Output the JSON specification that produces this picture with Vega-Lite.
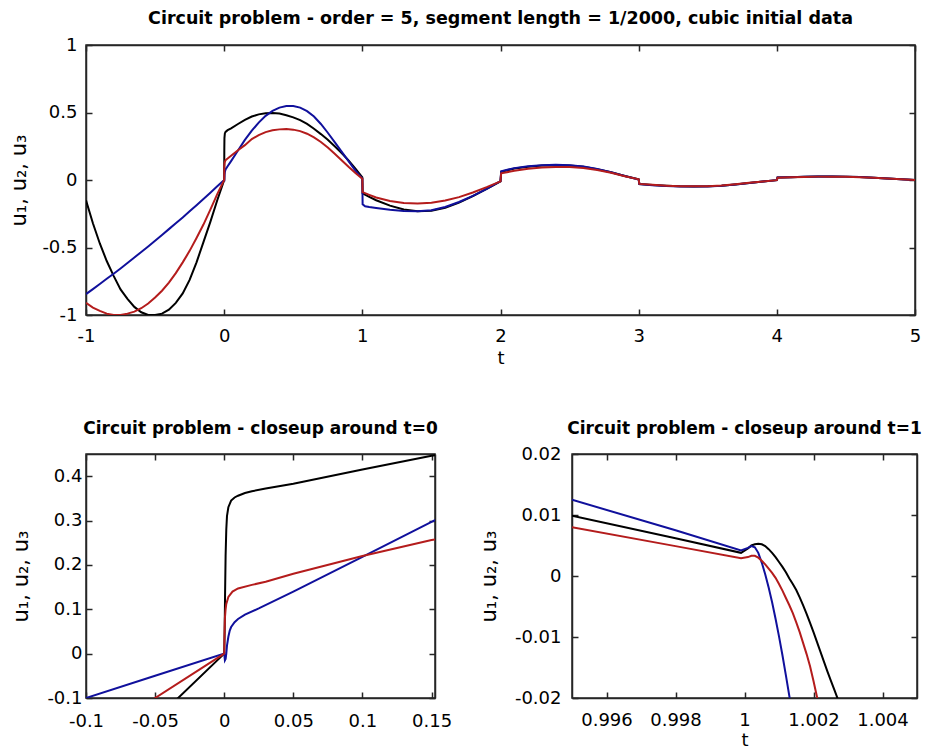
{
  "$schema": "https://vega.github.io/schema/vega-lite/v6.json",
  "background": "white",
  "padding": {"left": 8, "top": 8, "right": 6, "bottom": 0},
  "bounds": "flush",
  "spacing": 139,
  "config": {
    "view": {"stroke": "#262626", "strokeWidth": 1.5},
    "axis": {
      "domainColor": "#262626", "domainWidth": 1.5,
      "tickColor": "#262626", "tickWidth": 1.5, "tickSize": -6,
      "grid": false, "labelFlush": false,
      "labelFont": "DejaVu Sans", "labelFontSize": 18, "labelColor": "#000000",
      "titleFont": "DejaVu Sans", "titleFontSize": 21, "titleFontWeight": "normal", "titleColor": "#000000"
    },
    "title": {"font": "DejaVu Sans", "fontSize": 17, "fontWeight": "bold", "color": "#000000", "anchor": "middle", "offset": 12}
  },
  "datasets": {
    "main": [
      {"t":-1,"u1":-0.15,"u2":-0.845,"u3":-0.91},
      {"t":-0.95,"u1":-0.32,"u2":-0.808,"u3":-0.945},
      {"t":-0.9,"u1":-0.47,"u2":-0.77,"u3":-0.97},
      {"t":-0.85,"u1":-0.6,"u2":-0.732,"u3":-0.99},
      {"t":-0.8,"u1":-0.71,"u2":-0.694,"u3":-1.0},
      {"t":-0.75,"u1":-0.81,"u2":-0.655,"u3":-1.0},
      {"t":-0.7,"u1":-0.88,"u2":-0.615,"u3":-0.99},
      {"t":-0.65,"u1":-0.94,"u2":-0.574,"u3":-0.975},
      {"t":-0.6,"u1":-0.98,"u2":-0.533,"u3":-0.95},
      {"t":-0.55,"u1":-1.0,"u2":-0.492,"u3":-0.915},
      {"t":-0.5,"u1":-1.0,"u2":-0.45,"u3":-0.87},
      {"t":-0.45,"u1":-0.99,"u2":-0.407,"u3":-0.82},
      {"t":-0.4,"u1":-0.96,"u2":-0.364,"u3":-0.76},
      {"t":-0.35,"u1":-0.91,"u2":-0.321,"u3":-0.69},
      {"t":-0.3,"u1":-0.84,"u2":-0.277,"u3":-0.61},
      {"t":-0.25,"u1":-0.74,"u2":-0.232,"u3":-0.525},
      {"t":-0.2,"u1":-0.61,"u2":-0.187,"u3":-0.43},
      {"t":-0.15,"u1":-0.46,"u2":-0.141,"u3":-0.33},
      {"t":-0.1,"u1":-0.31,"u2":-0.094,"u3":-0.22},
      {"t":-0.05,"u1":-0.15,"u2":-0.047,"u3":-0.105},
      {"t":0,"u1":0,"u2":0,"u3":0},
      {"t":0.001,"u1":0.22,"u2":-0.01,"u3":0.1},
      {"t":0.002,"u1":0.31},
      {"t":0.003,"u2":0.04,"u3":0.128},
      {"t":0.005,"u1":0.345,"u2":0.06},
      {"t":0.01,"u1":0.356,"u2":0.078,"u3":0.147},
      {"t":0.025,"u1":0.369,"u2":0.102,"u3":0.159},
      {"t":0.05,"u1":0.383,"u2":0.14,"u3":0.18},
      {"t":0.1,"u1":0.415,"u2":0.218,"u3":0.22},
      {"t":0.15,"u1":0.446,"u2":0.297,"u3":0.258},
      {"t":0.2,"u1":0.47,"u2":0.365,"u3":0.303},
      {"t":0.25,"u1":0.486,"u2":0.425,"u3":0.333},
      {"t":0.3,"u1":0.495,"u2":0.475,"u3":0.355},
      {"t":0.35,"u1":0.497,"u2":0.512,"u3":0.368},
      {"t":0.4,"u1":0.492,"u2":0.536,"u3":0.375},
      {"t":0.45,"u1":0.48,"u2":0.548,"u3":0.377},
      {"t":0.5,"u1":0.464,"u2":0.548,"u3":0.373},
      {"t":0.55,"u1":0.443,"u2":0.536,"u3":0.362},
      {"t":0.6,"u1":0.415,"u2":0.51,"u3":0.343},
      {"t":0.65,"u1":0.38,"u2":0.47,"u3":0.316},
      {"t":0.7,"u1":0.34,"u2":0.415,"u3":0.282},
      {"t":0.75,"u1":0.298,"u2":0.35,"u3":0.24},
      {"t":0.8,"u1":0.25,"u2":0.28,"u3":0.195},
      {"t":0.85,"u1":0.2,"u2":0.21,"u3":0.147},
      {"t":0.9,"u1":0.145,"u2":0.14,"u3":0.098},
      {"t":0.95,"u1":0.085,"u2":0.07,"u3":0.052},
      {"t":1,"u1":0.02,"u2":0.01,"u3":0.01},
      {"t":1.002,"u1":-0.1,"u2":-0.18,"u3":-0.09},
      {"t":1.02,"u2":-0.195},
      {"t":1.05,"u1":-0.125,"u2":-0.2,"u3":-0.11},
      {"t":1.1,"u1":-0.15,"u2":-0.207,"u3":-0.13},
      {"t":1.2,"u1":-0.19,"u2":-0.22,"u3":-0.155},
      {"t":1.3,"u1":-0.218,"u2":-0.23,"u3":-0.17},
      {"t":1.4,"u1":-0.232,"u2":-0.232,"u3":-0.174},
      {"t":1.5,"u1":-0.228,"u2":-0.224,"u3":-0.168},
      {"t":1.6,"u1":-0.205,"u2":-0.2,"u3":-0.152},
      {"t":1.7,"u1":-0.168,"u2":-0.163,"u3":-0.127},
      {"t":1.8,"u1":-0.12,"u2":-0.117,"u3":-0.093},
      {"t":1.9,"u1":-0.065,"u2":-0.065,"u3":-0.053},
      {"t":2,"u1":-0.01,"u2":-0.008,"u3":-0.01},
      {"t":2.005,"u1":0.06,"u2":0.065,"u3":0.05},
      {"t":2.1,"u1":0.085,"u2":0.088,"u3":0.068},
      {"t":2.2,"u1":0.098,"u2":0.102,"u3":0.083},
      {"t":2.3,"u1":0.107,"u2":0.11,"u3":0.093},
      {"t":2.4,"u1":0.11,"u2":0.113,"u3":0.097},
      {"t":2.5,"u1":0.108,"u2":0.11,"u3":0.096},
      {"t":2.6,"u1":0.098,"u2":0.1,"u3":0.089},
      {"t":2.7,"u1":0.08,"u2":0.082,"u3":0.074},
      {"t":2.8,"u1":0.058,"u2":0.058,"u3":0.053},
      {"t":2.9,"u1":0.03,"u2":0.03,"u3":0.028},
      {"t":3,"u1":0.005,"u2":0.003,"u3":0.005},
      {"t":3.005,"u1":-0.03,"u2":-0.031,"u3":-0.029},
      {"t":3.1,"u1":-0.037,"u2":-0.038,"u3":-0.036},
      {"t":3.2,"u1":-0.043,"u2":-0.044,"u3":-0.042},
      {"t":3.3,"u1":-0.047,"u2":-0.048,"u3":-0.046},
      {"t":3.4,"u1":-0.048,"u2":-0.049,"u3":-0.047},
      {"t":3.5,"u1":-0.047,"u2":-0.048,"u3":-0.046},
      {"t":3.6,"u1":-0.042,"u2":-0.042,"u3":-0.041},
      {"t":3.7,"u1":-0.033,"u2":-0.033,"u3":-0.032},
      {"t":3.8,"u1":-0.022,"u2":-0.022,"u3":-0.021},
      {"t":3.9,"u1":-0.011,"u2":-0.011,"u3":-0.011},
      {"t":4,"u1":-0.001,"u2":-0.001,"u3":-0.001},
      {"t":4.005,"u1":0.018,"u2":0.018,"u3":0.017},
      {"t":4.1,"u1":0.021,"u2":0.021,"u3":0.02},
      {"t":4.2,"u1":0.024,"u2":0.024,"u3":0.023},
      {"t":4.3,"u1":0.026,"u2":0.026,"u3":0.025},
      {"t":4.4,"u1":0.026,"u2":0.026,"u3":0.025},
      {"t":4.5,"u1":0.025,"u2":0.025,"u3":0.024},
      {"t":4.6,"u1":0.022,"u2":0.022,"u3":0.021},
      {"t":4.7,"u1":0.017,"u2":0.017,"u3":0.016},
      {"t":4.8,"u1":0.011,"u2":0.011,"u3":0.011},
      {"t":4.9,"u1":0.005,"u2":0.005,"u3":0.005},
      {"t":5,"u1":0,"u2":0,"u3":0}
    ],
    "z0": [
      {"t":-0.1,"u1":-0.31,"u2":-0.1,"u3":-0.22},
      {"t":-0.05,"u1":-0.15,"u2":-0.05,"u3":-0.1},
      {"t":0,"u1":0,"u2":0,"u3":0},
      {"t":0.0002,"u3":0.04},
      {"t":0.0003,"u1":0.05},
      {"t":0.0005,"u2":-0.015,"u3":0.08},
      {"t":0.0006,"u1":0.13},
      {"t":0.001,"u1":0.22,"u2":-0.012,"u3":0.1},
      {"t":0.0015,"u1":0.28,"u2":0.0,"u3":0.112},
      {"t":0.002,"u1":0.31,"u2":0.018},
      {"t":0.003,"u1":0.33,"u2":0.038,"u3":0.128},
      {"t":0.004,"u2":0.052},
      {"t":0.005,"u1":0.345,"u2":0.06},
      {"t":0.006,"u3":0.14},
      {"t":0.0075,"u1":0.352,"u2":0.071},
      {"t":0.01,"u1":0.356,"u2":0.078,"u3":0.147},
      {"t":0.015,"u1":0.362,"u2":0.088},
      {"t":0.02,"u1":0.366,"u3":0.155},
      {"t":0.025,"u2":0.102},
      {"t":0.03,"u1":0.372,"u3":0.162},
      {"t":0.05,"u1":0.383,"u2":0.14,"u3":0.18},
      {"t":0.1,"u1":0.415,"u2":0.218,"u3":0.22},
      {"t":0.15,"u1":0.446,"u2":0.297,"u3":0.256},
      {"t":0.155,"u1":0.448,"u2":0.305,"u3":0.259}
    ],
    "z1": [
      {"t":0.995,"u1":0.0099,"u2":0.0125,"u3":0.008},
      {"t":0.998,"u1":0.0062,"u2":0.0075,"u3":0.0049},
      {"t":0.9999,"u1":0.0038,"u2":0.0042,"u3":0.0029},
      {"t":1.0001,"u1":0.0045,"u2":0.0046,"u3":0.0031},
      {"t":1.0002,"u1":0.005,"u2":0.0049,"u3":0.0033},
      {"t":1.0003,"u1":0.0052,"u2":0.0047,"u3":0.0033},
      {"t":1.0004,"u1":0.0053,"u2":0.0038,"u3":0.003},
      {"t":1.0005,"u1":0.0052,"u2":0.0022,"u3":0.0025},
      {"t":1.0006,"u1":0.0049,"u2":0.0003,"u3":0.0019},
      {"t":1.0007,"u1":0.0044,"u2":-0.0019,"u3":0.0012},
      {"t":1.0008,"u1":0.0038,"u2":-0.0043,"u3":0.0005},
      {"t":1.0009,"u1":0.0031,"u2":-0.007,"u3":-0.0003},
      {"t":1.001,"u1":0.0023,"u2":-0.0099,"u3":-0.0013},
      {"t":1.0011,"u1":0.0015,"u2":-0.013,"u3":-0.0024},
      {"t":1.0012,"u1":0.0006,"u2":-0.0163,"u3":-0.0036},
      {"t":1.0013,"u1":-0.0004,"u2":-0.0197,"u3":-0.0048},
      {"t":1.0014,"u1":-0.0013,"u2":-0.0232,"u3":-0.0061},
      {"t":1.0015,"u1":-0.0023,"u3":-0.0076},
      {"t":1.0016,"u1":-0.0035,"u3":-0.0092},
      {"t":1.0017,"u1":-0.0048,"u3":-0.011},
      {"t":1.0018,"u1":-0.0062,"u3":-0.0128},
      {"t":1.0019,"u1":-0.0077,"u3":-0.0148},
      {"t":1.002,"u1":-0.0092,"u3":-0.0172},
      {"t":1.0021,"u1":-0.0108,"u3":-0.0198},
      {"t":1.0022,"u1":-0.0124,"u3":-0.0225},
      {"t":1.0023,"u1":-0.014},
      {"t":1.0024,"u1":-0.0156},
      {"t":1.0025,"u1":-0.0171},
      {"t":1.0026,"u1":-0.0186},
      {"t":1.0027,"u1":-0.0201},
      {"t":1.0028,"u1":-0.0216}
    ]
  },
  "vconcat": [
    {
      "width": 829, "height": 270,
      "title": {"text": "Circuit problem - order = 5, segment length = 1/2000, cubic initial data", "fontSize": 17.5, "offset": 9},
      "data": {"name": "main"},
      "transform": [{"fold": ["u1","u2","u3"], "as": ["s","u"]}, {"filter": "isValid(datum.u) && isFinite(datum.u)"}],
      "layer": [
        {
          "mark": {"type": "line", "strokeWidth": 2, "clip": true},
          "encoding": {
            "x": {"field": "t", "type": "quantitative", "scale": {"domain": [-1, 5], "nice": false, "zero": false},
                  "axis": {"orient": "bottom", "values": [-1,0,1,2,3,4,5], "labelExpr": "'' + datum.value", "labelPadding": 18, "title": "t", "titleFontSize": 18, "titlePadding": 4}},
            "y": {"field": "u", "type": "quantitative", "scale": {"domain": [-1, 1], "nice": false, "zero": false},
                  "axis": {"orient": "left", "values": [-1,-0.5,0,0.5,1], "labelExpr": "'' + datum.value", "labelPadding": 15, "title": "u₁, u₂, u₃", "titlePadding": 12}},
            "color": {"field": "s", "type": "nominal", "scale": {"domain": ["u1","u2","u3"], "range": ["#000000","#10109c","#b41c1c"]}, "legend": null}
          }
        },
        {
          "mark": {"type": "line", "strokeOpacity": 0, "clip": true},
          "encoding": {
            "x": {"field": "t", "type": "quantitative", "axis": {"orient": "top", "values": [-1,0,1,2,3,4,5], "labels": false, "title": null}},
            "y": {"field": "u", "type": "quantitative", "axis": {"orient": "right", "values": [-1,-0.5,0,0.5,1], "labels": false, "title": null}},
            "detail": {"field": "s"}
          }
        }
      ],
      "resolve": {"axis": {"x": "independent", "y": "independent"}}
    },
    {
      "hconcat": [
        {
          "width": 349, "height": 244,
          "title": {"text": "Circuit problem - closeup around t=0", "offset": 15},
          "data": {"name": "z0"},
          "transform": [{"fold": ["u1","u2","u3"], "as": ["s","u"]}, {"filter": "isValid(datum.u) && isFinite(datum.u)"}],
          "layer": [
            {
              "mark": {"type": "line", "strokeWidth": 2, "clip": true},
              "encoding": {
                "x": {"field": "t", "type": "quantitative", "scale": {"domain": [-0.1, 0.1525], "nice": false, "zero": false},
                      "axis": {"orient": "bottom", "values": [-0.1,-0.05,0,0.05,0.1,0.15], "labelExpr": "'' + datum.value", "labelPadding": 20, "title": null}},
                "y": {"field": "u", "type": "quantitative", "scale": {"domain": [-0.1, 0.45], "nice": false, "zero": false},
                      "axis": {"orient": "left", "values": [-0.1,0,0.1,0.2,0.3,0.4], "labelExpr": "'' + datum.value", "labelPadding": 10, "title": "u₁, u₂, u₃", "titlePadding": 15}},
                "color": {"field": "s", "type": "nominal", "scale": {"domain": ["u1","u2","u3"], "range": ["#000000","#10109c","#b41c1c"]}, "legend": null}
              }
            },
            {
              "mark": {"type": "line", "strokeOpacity": 0, "clip": true},
              "encoding": {
                "x": {"field": "t", "type": "quantitative", "axis": {"orient": "top", "values": [-0.1,-0.05,0,0.05,0.1,0.15], "labels": false, "title": null}},
                "y": {"field": "u", "type": "quantitative", "axis": {"orient": "right", "values": [-0.1,0,0.1,0.2,0.3,0.4], "labels": false, "title": null}},
                "detail": {"field": "s"}
              }
            }
          ],
          "resolve": {"axis": {"x": "independent", "y": "independent"}}
        },
        {
          "width": 345, "height": 244,
          "title": {"text": "Circuit problem - closeup around t=1", "offset": 7},
          "data": {"name": "z1"},
          "transform": [{"fold": ["u1","u2","u3"], "as": ["s","u"]}, {"filter": "isValid(datum.u) && isFinite(datum.u)"}],
          "layer": [
            {
              "mark": {"type": "line", "strokeWidth": 2, "clip": true},
              "encoding": {
                "x": {"field": "t", "type": "quantitative", "scale": {"domain": [0.995, 1.005], "nice": false, "zero": false},
                      "axis": {"orient": "bottom", "values": [0.996,0.998,1,1.002,1.004], "labelExpr": "'' + datum.value", "labelPadding": 19, "title": "t", "titleFontSize": 18, "titlePadding": 2}},
                "y": {"field": "u", "type": "quantitative", "scale": {"domain": [-0.02, 0.02], "nice": false, "zero": false},
                      "axis": {"orient": "left", "values": [-0.02,-0.01,0,0.01,0.02], "labelExpr": "'' + datum.value", "labelPadding": 17, "title": "u₁, u₂, u₃", "titlePadding": 15}},
                "color": {"field": "s", "type": "nominal", "scale": {"domain": ["u1","u2","u3"], "range": ["#000000","#10109c","#b41c1c"]}, "legend": null}
              }
            },
            {
              "mark": {"type": "line", "strokeOpacity": 0, "clip": true},
              "encoding": {
                "x": {"field": "t", "type": "quantitative", "axis": {"orient": "top", "values": [0.996,0.998,1,1.002,1.004], "labels": false, "title": null}},
                "y": {"field": "u", "type": "quantitative", "axis": {"orient": "right", "values": [-0.02,-0.01,0,0.01,0.02], "labels": false, "title": null}},
                "detail": {"field": "s"}
              }
            }
          ],
          "resolve": {"axis": {"x": "independent", "y": "independent"}}
        }
      ],
      "bounds": "flush",
      "spacing": 137
    }
  ]
}
